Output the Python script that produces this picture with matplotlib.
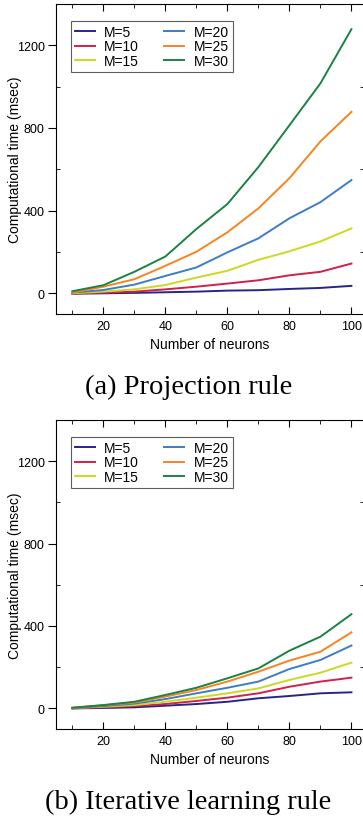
import matplotlib
matplotlib.use('Agg')
import matplotlib.pyplot as plt
from matplotlib.ticker import MultipleLocator

plt.rcParams['font.family'] = ['Liberation Sans', 'DejaVu Sans']

neurons = [10, 20, 30, 40, 50, 60, 70, 80, 90, 100]
labels = ['M=5', 'M=10', 'M=15', 'M=20', 'M=25', 'M=30']
colors = ['#25258a', '#d21f4c', '#c9db1f', '#3d7cc9', '#f7841f', '#1a8242']

# (a) projection rule
proj_m5 = [-2, 0, 2, 5, 8, 13, 15, 21, 26, 36]
proj_m10 = [-1, 3, 8, 19, 32, 47, 63, 87, 104, 144]
proj_m15 = [0, 8, 19, 40, 76, 109, 162, 203, 251, 314]
proj_m20 = [3, 16, 42, 84, 125, 198, 266, 363, 441, 548]
proj_m25 = [3, 32, 68, 133, 201, 295, 411, 557, 735, 878]
proj_m30 = [10, 39, 104, 178, 311, 432, 611, 813, 1016, 1278]

# (b) iterative learning rule
iter_m5 = [0, 2, 5, 13, 21, 32, 49, 60, 73, 78]
iter_m10 = [0, 5, 11, 21, 36, 52, 73, 105, 130, 149]
iter_m15 = [2, 8, 16, 32, 52, 73, 97, 138, 173, 222]
iter_m20 = [2, 11, 23, 45, 73, 100, 130, 191, 235, 305]
iter_m25 = [3, 15, 28, 57, 89, 130, 178, 232, 275, 369]
iter_m30 = [3, 16, 32, 65, 100, 146, 194, 280, 348, 457]

panels = [
    ([proj_m5, proj_m10, proj_m15, proj_m20, proj_m25, proj_m30], '(a) Projection rule'),
    ([iter_m5, iter_m10, iter_m15, iter_m20, iter_m25, iter_m30], '(b) Iterative learning rule'),
]

fig = plt.figure(figsize=(3.63, 8.2), dpi=100)
ax_boxes = [[0.154, 0.6159, 0.85, 0.378], [0.154, 0.1098, 0.85, 0.3768]]

for (series, caption), box in zip(panels, ax_boxes):
    ax = fig.add_axes(box)
    for vals, lab, col in zip(series, labels, colors):
        ax.plot(neurons, vals, color=col, lw=1.4, label=lab)
    ax.set_xlim(4.7, 104.2)
    ax.set_ylim(-100, 1400)
    ax.xaxis.set_major_locator(MultipleLocator(20))
    ax.xaxis.set_minor_locator(MultipleLocator(10))
    ax.yaxis.set_major_locator(MultipleLocator(400))
    ax.yaxis.set_minor_locator(MultipleLocator(200))
    ax.tick_params(axis='x', which='both', direction='in', top=True, labelsize=9, pad=4)
    ax.tick_params(axis='x', which='major', length=5)
    ax.tick_params(axis='x', which='minor', length=3)
    ax.tick_params(axis='y', which='major', direction='out', length=6, pad=2, labelsize=9)
    ax.tick_params(axis='y', which='minor', direction='in', length=3)
    ax.tick_params(axis='y', which='both', right=True)
    ax.set_xlabel('Number of neurons', fontsize=10, labelpad=4)
    ax.set_ylabel('Computational time (msec)', fontsize=10)
    ax.yaxis.set_label_coords(-0.11, 0.5)
    leg = ax.legend(ncol=2, loc='upper left', bbox_to_anchor=(0.049, 0.945), borderaxespad=0,
                    fontsize=10, frameon=True, fancybox=False, handlelength=1.4,
                    columnspacing=1.8, labelspacing=0.02, borderpad=0.3, handletextpad=0.7)
    leg.get_frame().set_edgecolor('#333333')
    leg.get_frame().set_linewidth(0.8)
    ax.text(0.43, -0.235, caption, transform=ax.transAxes, ha='center', va='center',
            fontsize=20.5, family=['Liberation Serif', 'DejaVu Serif'])

plt.savefig('out.png', dpi=100)
plt.close(fig)
